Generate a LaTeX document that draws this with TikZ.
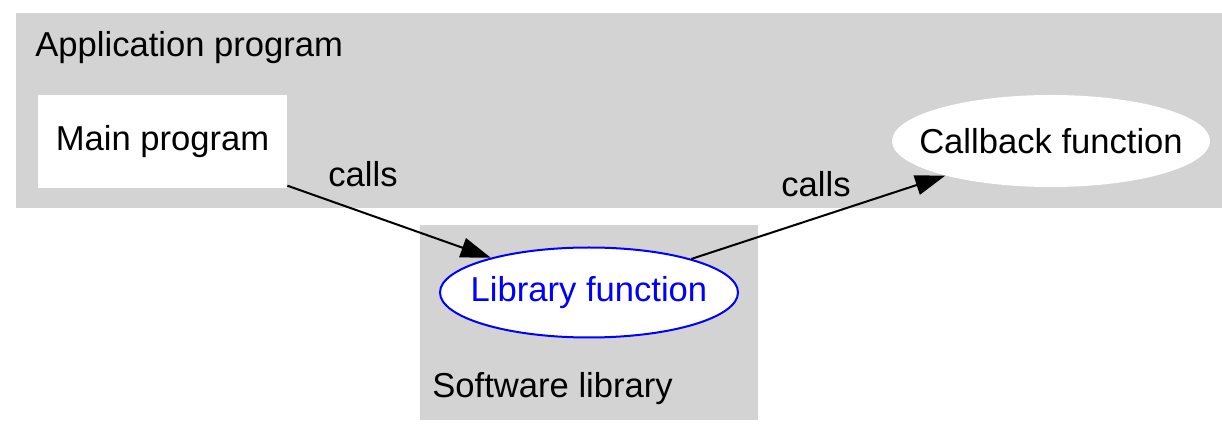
\documentclass[tikz,border=0pt]{standalone}
\usepackage{fontspec}
\setmainfont{Liberation Sans}
\usetikzlibrary{shapes.geometric,arrows.meta}
\definecolor{clustergray}{RGB}{211,211,211}
\tikzset{
  cluster/.style={fill=clustergray},
  boxnode/.style={fill=white, inner sep=0pt, minimum width=124.5pt, minimum height=46.5pt},
  ovalnode/.style={ellipse, fill=white, inner sep=0pt},
  calledge/.style={->, line width=1pt},
  title/.style={anchor=base west, inner sep=0pt},
}
\begin{document}
\begin{tikzpicture}[x=0.5pt, y=-0.5pt, >={Triangle[length=15pt,width=10pt]}, font=\fontsize{17.3}{20}\selectfont]
	\useasboundingbox (0,0) rectangle (1222,427);
	\fill[white] (0,0) rectangle (1222,427);
	% clusters
	\fill[cluster] (16,13) rectangle (1222,208);
	\fill[cluster] (420,225) rectangle (758,420);
	\node[title] (apptitle) at (35,57) {Application program};
	\node[title] (libtitle) at (432,398) {Software library};
	% functions
	\node[boxnode] (main) at (162.5,141.5) {Main program};
	\node[ovalnode, minimum width=159pt, minimum height=46pt, label=center:{Callback function}] (cb) at (1051,141) {};
	\node[ovalnode, draw=blue, line width=1pt, minimum width=149pt, minimum height=45pt, label={[text=blue]center:Library function}] (lib) at (589,292.5) {};
	% calls
	\draw[calledge] (main) -- (lib);
	\draw[calledge] (lib) -- (cb);
	\node[title] (callsa) at (328,187) {calls};
	\node[title] (callsb) at (781,197) {calls};
\end{tikzpicture}
\end{document}
